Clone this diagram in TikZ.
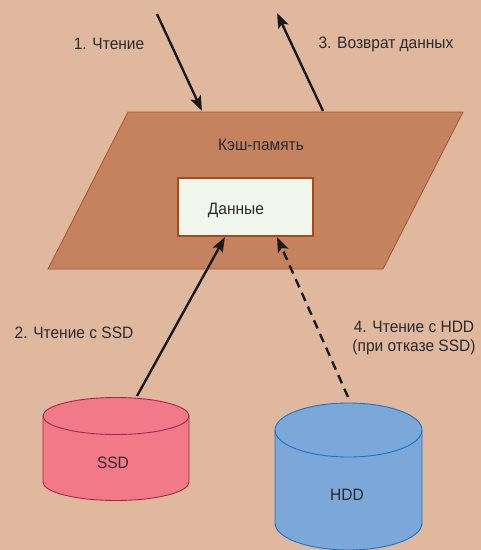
\documentclass[tikz,border=0pt]{standalone}
\usepackage{fontspec}
\setmainfont[FakeStretch=0.94]{Liberation Sans}
\usetikzlibrary{arrows.meta}
\definecolor{bgc}{HTML}{E0B89E}
\definecolor{cachef}{HTML}{C4825F}
\definecolor{cached}{HTML}{A8552E}
\definecolor{dataf}{HTML}{F2F7EE}
\definecolor{datad}{HTML}{A84A1A}
\definecolor{ssdf}{HTML}{F27988}
\definecolor{ssdd}{HTML}{A8284A}
\definecolor{hddf}{HTML}{7BA7D9}
\definecolor{hddd}{HTML}{1E72C8}
\definecolor{txt}{HTML}{2A2A2A}
\tikzset{
  lbl/.style={font=\fontsize{16.5}{19}\selectfont, text=txt, inner sep=0pt},
  flow/.style={line width=2.4pt, draw=black!90, -{Stealth[length=15pt,width=11pt,inset=3pt]}},
  flowd/.style={flow, dash pattern=on 9pt off 6pt},
}
\begin{document}
\begin{tikzpicture}[x=1pt,y=-1pt]
\fill[bgc] (0,0) rectangle (481,550);
\useasboundingbox (0,0) rectangle (481,550);
% cache parallelogram
\draw[fill=cachef, draw=cached, line width=0.8pt] (128,112) -- (463,112) -- (383,269) -- (48,269) -- cycle;
\node[lbl] (cache) at (261,145) {Кэш-память};
% data box
\node[draw=datad, fill=dataf, line width=2pt, minimum width=135pt, minimum height=58pt, inner sep=0pt] (data) at (245.5,207) {};
\node[lbl] (datat) at (236,210) {Данные};
% SSD cylinder
\draw[fill=ssdf, draw=ssdd, line width=0.9pt] (43,416) -- (43,482) arc[start angle=180, end angle=0, x radius=73, y radius=18.5] -- (189,416) arc[start angle=0, end angle=-180, x radius=73, y radius=18.5] -- cycle;
\draw[draw=ssdd, line width=0.9pt] (43,416) arc[start angle=180, end angle=0, x radius=73, y radius=18.5];
\node[lbl] (ssd) at (113,463) {SSD};
\coordinate (ssdtop) at (137,396);
% HDD cylinder
\draw[fill=hddf, draw=hddd, line width=0.9pt] (275,430) -- (275,523) arc[start angle=180, end angle=0, x radius=73.5, y radius=27] -- (422,430) arc[start angle=0, end angle=-180, x radius=73.5, y radius=27] -- cycle;
\draw[draw=hddd, line width=0.9pt] (275,430) arc[start angle=180, end angle=0, x radius=73.5, y radius=27];
\node[lbl] (hdd) at (347,495) {HDD};
\coordinate (hddtop) at (348,397);
% arrows
\coordinate (in1) at (157,14);
\coordinate (in1e) at (202,111);
\coordinate (out3s) at (323,111);
\coordinate (out3) at (277,13);
\coordinate (d2) at (225,237);
\coordinate (d4) at (277,237);
\draw[flow] (in1) -- (in1e);
\draw[flow] (out3s) -- (out3);
\draw[flow] (ssdtop) -- (d2);
\draw[flowd] (hddtop) -- (d4);
% labels
\node[lbl] (l1) at (109,44) {1. Чтение};
\node[lbl] (l3) at (386,44) {3. Возврат данных};
\node[lbl] (l2) at (74,333) {2. Чтение с SSD};
\node[lbl, align=center] (l4) at (414,338) {4. Чтение с HDD\\(при отказе SSD)};
\end{tikzpicture}
\end{document}
